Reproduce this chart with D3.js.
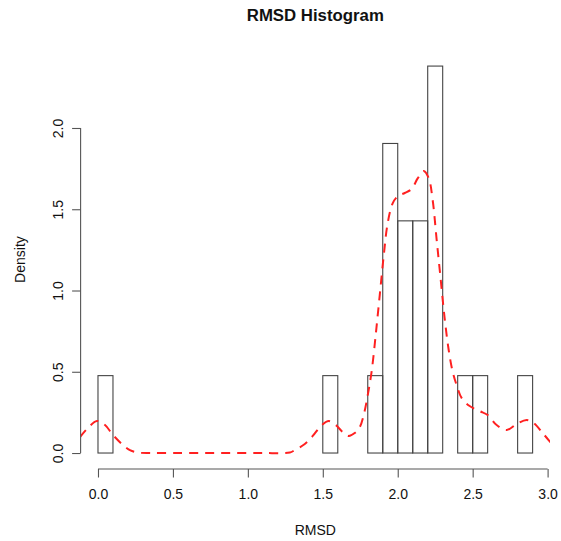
<!DOCTYPE html>
<html>
<head>
<meta charset="utf-8">
<script src="https://cdn.jsdelivr.net/npm/d3@7/dist/d3.min.js"></script>
<style>
  html, body { margin: 0; padding: 0; background: #fff; }
  svg text { font-family: "Liberation Sans", Arial, sans-serif; fill: #111; }
</style>
</head>
<body>
<div id="chart"></div>
<script>
// Histogram bins (width 0.1, from 0.0 to 2.9) and the RMSD counts in each
const binStart = 0.0;
const binWidth = 0.1;
const binCounts = [1, 0, 0, 0, 0, 0, 0, 0, 0, 0,
                   0, 0, 0, 0, 0, 1, 0, 0, 1, 4,
                   3, 3, 5, 0, 1, 1, 0, 0, 1];

// Kernel density estimate of RMSD (x, density)
const densityX = [-0.12, -0.067, -0.007, 0.047, 0.10, 0.16, 0.213, 0.267, 0.35, 0.50,
                  0.70, 0.90, 1.10, 1.28, 1.313, 1.38, 1.433, 1.493, 1.54, 1.587,
                  1.633, 1.673, 1.713, 1.747, 1.773, 1.80, 1.827, 1.853, 1.88, 1.907,
                  1.933, 1.967, 2.0, 2.047, 2.093, 2.133, 2.173, 2.207, 2.233, 2.26,
                  2.287, 2.313, 2.34, 2.367, 2.393, 2.427, 2.48, 2.547, 2.6, 2.66,
                  2.727, 2.793, 2.86, 2.907, 2.967, 3.02];
const densityY = [0.098, 0.154, 0.197, 0.172, 0.111, 0.055, 0.018, 0.003, 0.0, 0.0,
                  0.0, 0.0, 0.0, 0.003, 0.018, 0.055, 0.105, 0.172, 0.197, 0.172,
                  0.129, 0.105, 0.123, 0.16, 0.234, 0.357, 0.51, 0.726, 0.972, 1.218,
                  1.415, 1.538, 1.58, 1.60, 1.625, 1.69, 1.735, 1.69, 1.557, 1.31,
                  1.065, 0.83, 0.634, 0.498, 0.418, 0.338, 0.289, 0.258, 0.234, 0.172,
                  0.142, 0.178, 0.203, 0.185, 0.123, 0.065];

const xTicks = [0.0, 0.5, 1.0, 1.5, 2.0, 2.5, 3.0];
const yTicks = [0.0, 0.5, 1.0, 1.5, 2.0];

const W = 561, H = 541;
const plot = { left: 80.6, right: 550, top: 50.6, bottom: 468.5 };

const total = d3.sum(binCounts);
const bins = binCounts.map((c, i) => ({
  x0: binStart + i * binWidth,
  x1: binStart + (i + 1) * binWidth,
  density: c / (total * binWidth)
}));

const xMin = binStart, xMax = binStart + binCounts.length * binWidth;
const xPad = (xMax - xMin) * 0.04;
const yMaxVal = d3.max(bins, d => d.density);
const yPad = yMaxVal * 0.04;

const x = d3.scaleLinear().domain([xMin - xPad, xMax + xPad]).range([plot.left, plot.right]);
const y = d3.scaleLinear().domain([-yPad, yMaxVal + yPad]).range([plot.bottom, plot.top]);

const svg = d3.select("#chart").append("svg")
  .attr("width", W).attr("height", H);

svg.append("defs").append("clipPath").attr("id", "plotClip")
  .append("rect")
  .attr("x", plot.left).attr("y", plot.top)
  .attr("width", plot.right - plot.left).attr("height", plot.bottom - plot.top);

// Bars
svg.append("g")
  .selectAll("rect")
  .data(bins)
  .join("rect")
  .attr("x", d => x(d.x0))
  .attr("y", d => y(d.density))
  .attr("width", d => x(d.x1) - x(d.x0))
  .attr("height", d => y(0) - y(d.density))
  .attr("fill", "none")
  .attr("stroke", "#444")
  .attr("stroke-width", 1.1);

// Density curve
const line = d3.line()
  .x((d, i) => x(densityX[i]))
  .y(d => y(d))
  .curve(d3.curveCatmullRom.alpha(0.5));

svg.append("path")
  .datum(densityY)
  .attr("clip-path", "url(#plotClip)")
  .attr("d", line)
  .attr("fill", "none")
  .attr("stroke", "#ff2020")
  .attr("stroke-width", 2)
  .attr("stroke-dasharray", "9,7");

// X axis
const xAxisY = 469;
const gx = svg.append("g")
  .attr("transform", `translate(0,${xAxisY})`)
  .call(d3.axisBottom(x).tickValues(xTicks).tickSize(8.5).tickPadding(12)
    .tickFormat(d3.format(".1f")));
gx.select(".domain").remove();
gx.append("line")
  .attr("x1", x(xTicks[0])).attr("x2", x(xTicks[xTicks.length - 1]))
  .attr("y1", 0).attr("y2", 0)
  .attr("stroke", "#555").attr("stroke-width", 1.1);
gx.selectAll(".tick line").attr("stroke", "#555").attr("stroke-width", 1.1);
gx.selectAll(".tick text")
  .attr("font-family", "Liberation Sans, Arial, sans-serif")
  .attr("font-size", 14)
  .attr("fill", "#111");

// Y axis
const yAxisX = 80.6;
const gy = svg.append("g")
  .attr("transform", `translate(${yAxisX},0)`)
  .call(d3.axisLeft(y).tickValues(yTicks).tickSize(8.5)
    .tickFormat(d3.format(".1f")));
gy.select(".domain").remove();
gy.append("line")
  .attr("x1", 0).attr("x2", 0)
  .attr("y1", y(yTicks[0])).attr("y2", y(yTicks[yTicks.length - 1]))
  .attr("stroke", "#555").attr("stroke-width", 1.1);
gy.selectAll(".tick line").attr("stroke", "#555").attr("stroke-width", 1.1);
gy.selectAll(".tick text")
  .attr("x", null).attr("dy", null)
  .attr("transform", "translate(-23,0) rotate(-90)")
  .attr("text-anchor", "middle")
  .attr("dominant-baseline", "central")
  .attr("font-family", "Liberation Sans, Arial, sans-serif")
  .attr("font-size", 14)
  .attr("fill", "#111");

// Titles
svg.append("text")
  .attr("x", (plot.left + plot.right) / 2).attr("y", 21)
  .attr("text-anchor", "middle")
  .attr("font-size", 16.8).attr("font-weight", "bold")
  .text("RMSD Histogram");

svg.append("text")
  .attr("x", (plot.left + plot.right) / 2).attr("y", 535)
  .attr("text-anchor", "middle")
  .attr("font-size", 14)
  .text("RMSD");

svg.append("text")
  .attr("transform", `translate(25,${(plot.top + plot.bottom) / 2}) rotate(-90)`)
  .attr("text-anchor", "middle")
  .attr("font-size", 14)
  .text("Density");
</script>
</body>
</html>
